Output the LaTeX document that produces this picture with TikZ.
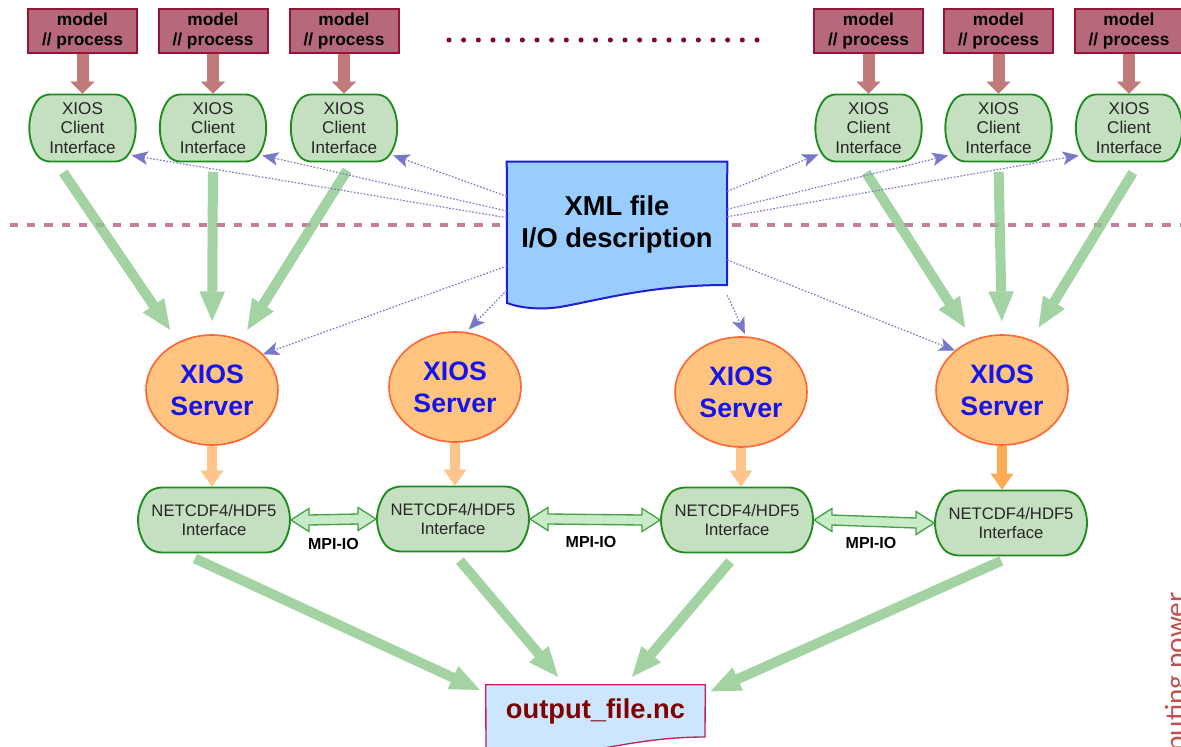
\documentclass[tikz,border=0pt]{standalone}
\usepackage{fontspec}
\setmainfont{Liberation Sans}
\newfontfamily\carl{Carlito}
\usetikzlibrary{shapes.misc,shapes.geometric,arrows.meta,calc}
\definecolor{modelfill}{RGB}{183,104,122}
\definecolor{modeldraw}{RGB}{150,20,55}
\definecolor{redarrow}{RGB}{192,122,122}
\definecolor{cfill}{RGB}{197,224,192}
\definecolor{cdraw}{RGB}{30,140,30}
\definecolor{garrow}{RGB}{140,200,140}
\definecolor{bdot}{RGB}{120,120,200}
\definecolor{sfill}{RGB}{255,196,128}
\definecolor{sdraw}{RGB}{255,100,50}
\definecolor{stext}{RGB}{20,20,235}
\definecolor{oarrow}{RGB}{255,196,140}
\definecolor{oarrowb}{RGB}{255,170,85}
\definecolor{mpifill}{RGB}{200,235,200}
\definecolor{mpidraw}{RGB}{70,160,70}
\definecolor{xmlfill}{RGB}{153,204,255}
\definecolor{xmldraw}{RGB}{30,30,210}
\definecolor{outfill}{RGB}{204,230,255}
\definecolor{outdraw}{RGB}{200,30,90}
\definecolor{outtext}{RGB}{128,0,0}
\definecolor{dashc}{RGB}{196,128,155}
\definecolor{dotc}{RGB}{130,10,40}
\definecolor{powred}{RGB}{192,80,77}
\tikzset{
  modelbox/.style={draw=modeldraw, line width=1.5pt, fill=modelfill, minimum width=81.75pt, minimum height=33pt, inner sep=0pt, align=center, font=\bfseries\fontsize{13}{15.5}\selectfont},
  clientbox/.style={rounded rectangle, rounded rectangle arc length=80, rounded corners=5pt, draw=cdraw, line width=1.4pt, fill=cfill, minimum width=62pt, minimum height=50.25pt, inner sep=0pt, align=center, text=black!85, font=\fontsize{12.8}{14.6}\selectfont},
  serverbox/.style={ellipse, draw=sdraw, line width=1.2pt, fill=sfill, minimum width=99pt, minimum height=82.5pt, inner sep=0pt, align=center, text=stext, font=\bfseries\fontsize{20}{24}\selectfont},
  netbox/.style={rounded rectangle, rounded rectangle arc length=110, rounded corners=5pt, draw=cdraw, line width=1.4pt, fill=cfill, minimum width=114pt, minimum height=48.75pt, inner sep=0pt, align=center, text=black!85, font=\fontsize{12.5}{14.5}\selectfont},
  redarr/.style={draw=redarrow, line width=9pt, -{Triangle[length=9pt,width=18pt,line width=0.01pt]}},
  garr/.style={draw=garrow, opacity=0.8, line width=7.5pt, -{Triangle[length=22pt,width=19pt,line width=0.01pt]}},
  oarr/.style={draw=oarrow, line width=7.5pt, -{Triangle[length=12pt,width=17pt,line width=0.01pt]}},
  dotarr/.style={draw=bdot, line width=0.9pt, dash pattern=on 1.2pt off 1.3pt, -{Stealth[length=12pt,width=10pt,inset=3pt,line width=0.01pt]}},
  mpiarr/.style={draw=mpidraw, line width=1pt, fill=mpifill, line join=miter},
  mpilabel/.style={font=\bfseries\fontsize{12}{14}\selectfont, inner sep=1pt},
}
\begin{document}
\begin{tikzpicture}[x=0.75pt,y=-0.75pt]
\useasboundingbox (0,0) rectangle (1181,746);
\clip (0,0) rectangle (1181,746);

% dashed separator and ellipsis dots
\draw[dashc, line width=3pt, dash pattern=on 6.2pt off 6.7pt] (10,225) -- (1181,225);
\draw[dotc, line width=3.8pt, line cap=round, dash pattern=on 0pt off 11pt] (449,40) -- (765,40);

% model boxes
\node[modelbox] (m1) at (82.5,31) {model\\// process};
\node[modelbox] (m2) at (213,31) {model\\// process};
\node[modelbox] (m3) at (344,31) {model\\// process};
\node[modelbox] (m4) at (868.5,31) {model\\// process};
\node[modelbox] (m5) at (998.5,31) {model\\// process};
\node[modelbox] (m6) at (1129,31) {model\\// process};

% clients
\node[clientbox] (c1) at (82.5,128) {XIOS\\Client\\Interface};
\node[clientbox] (c2) at (213,128) {XIOS\\Client\\Interface};
\node[clientbox] (c3) at (344,128) {XIOS\\Client\\Interface};
\node[clientbox] (c4) at (868.5,128) {XIOS\\Client\\Interface};
\node[clientbox] (c5) at (998.5,128) {XIOS\\Client\\Interface};
\node[clientbox] (c6) at (1129,128) {XIOS\\Client\\Interface};

\foreach \i in {1,...,6} {\draw[redarr] (m\i.south) -- (c\i.north);}

% servers
\node[serverbox] (s1) at (212,390) {XIOS\\Server};
\node[serverbox] (s2) at (455,387) {XIOS\\Server};
\node[serverbox] (s3) at (741,392) {XIOS\\Server};
\node[serverbox] (s4) at (1002,390) {XIOS\\Server};

% netcdf
\node[netbox] (n1) at (214,520) {NETCDF4/HDF5\\Interface};
\node[netbox] (n2) at (453,519) {NETCDF4/HDF5\\Interface};
\node[netbox] (n3) at (737,520) {NETCDF4/HDF5\\Interface};
\node[netbox] (n4) at (1011,523) {NETCDF4/HDF5\\Interface};

% XML document
\node[minimum width=165pt, minimum height=111pt, inner sep=0pt] (xml) at (617,236) {};
\draw[draw=xmldraw, line width=1.5pt, fill=xmlfill] (xml.north west) -- (xml.north east) -- (727,285) .. controls (650,285) and (600,300) .. (560,307) .. controls (540,310) and (520,308) .. (507,303) -- cycle;
\node[font=\bfseries\fontsize{20.5}{24}\selectfont, align=center] (xmltxt) at (617,224) {XML file\\I/O description};

% output file
\node[minimum width=164.25pt, minimum height=48.75pt, inner sep=0pt] (out) at (595.5,717.5) {};
\draw[draw=outdraw, line width=1pt, fill=outfill] (out.north west) -- (out.north east) -- (705,737) .. controls (640,737) and (600,752) .. (550,755) .. controls (520,757) .. (486,752) -- cycle;
\node[font=\bfseries\fontsize{20.5}{24}\selectfont, text=outtext] (outtxt) at (595.5,711) {output\_file.nc};

% client -> server (green)
\draw[garr, shorten <=9pt, shorten >=11pt] ($(c1.south)+(-26,0)$) -- (s1.125);
\draw[garr, shorten <=7pt, shorten >=10pt] (c2.south) -- (s1.north);
\draw[garr, shorten <=7pt, shorten >=9pt] ($(c3.south)+(8,0)$) -- (s1.60);
\draw[garr, shorten <=9pt, shorten >=11pt] ($(c4.south)+(-9,0)$) -- (s4.120);
\draw[garr, shorten <=7pt, shorten >=10pt] (c5.south) -- (s4.north);
\draw[garr, shorten <=9pt, shorten >=11pt] ($(c6.south)+(10,0)$) -- (s4.60);

% netcdf -> output (green)
\draw[garr, shorten <=9pt, shorten >=5pt] ($(n1.south)+(-30,0)$) -- ($(out.north west)+(0,8)$);
\draw[garr, shorten <=8pt, shorten >=8pt] (n2.south) -- ($(out.north west)+(79,0)$);
\draw[garr, shorten <=8pt, shorten >=8pt] (n3.south) -- ($(out.north east)+(-80,0)$);
\draw[garr, shorten <=8pt, shorten >=3pt] (n4.south) -- ($(out.north east)+(2,8)$);

% server -> netcdf (orange)
\draw[oarr] (s1.south) -- (s1.south |- n1.north);
\draw[oarr] (s2.south) -- (s2.south |- n2.north);
\draw[oarr] (s3.south) -- (s3.south |- n3.north);
\draw[oarr, draw=oarrowb] (s4.south) -- (s4.south |- n4.north);

% dotted XML connectors
\draw[dotarr] (xml) -- ($(c1.south east)+(9,-7)$);
\draw[dotarr] (xml) -- ($(c2.south east)+(9,-7)$);
\draw[dotarr] (xml) -- ($(c3.south east)+(9,-7)$);
\draw[dotarr] (xml) -- ($(c4.south west)+(-10,-8)$);
\draw[dotarr] (xml) -- ($(c5.south west)+(-10,-7)$);
\draw[dotarr] (xml) -- ($(c6.south west)+(-10,-7)$);
\draw[dotarr] ($(xml.west)+(0,30)$) -- (s1.35);
\draw[dotarr, shorten >=2pt] ($(xml.south west)+(0,-20)$) -- ($(s2.north)+(12,0)$);
\draw[dotarr, shorten >=2pt] ($(xml.south east)+(0,-15)$) -- ($(s3.north)+(5,0)$);
\draw[dotarr] ($(xml.east)+(0,24)$) -- (s4.140);

% MPI-IO double arrows
\draw[mpiarr] (n1.east) -- ++(18,-11.5) -- ++(0,6.5) -- ($(n2.west)+(-18,-5)$) -- ++(0,-6.5) -- (n2.west) -- ++(-18,11.5) -- ++(0,-6.5) -- ($(n1.east)+(18,5)$) -- ++(0,6.5) -- cycle;
\draw[mpiarr] (n2.east) -- ++(18,-11.5) -- ++(0,6.5) -- ($(n3.west)+(-18,-5)$) -- ++(0,-6.5) -- (n3.west) -- ++(-18,11.5) -- ++(0,-6.5) -- ($(n2.east)+(18,5)$) -- ++(0,6.5) -- cycle;
\draw[mpiarr] (n3.east) -- ++(18,-11.5) -- ++(0,6.5) -- ($(n4.west)+(-18,-5)$) -- ++(0,-6.5) -- (n4.west) -- ++(-18,11.5) -- ++(0,-6.5) -- ($(n3.east)+(18,5)$) -- ++(0,6.5) -- cycle;
\node[mpilabel] (mpi1) at ($(n1.east)!0.5!(n2.west)+(0,24)$) {MPI-IO};
\node[mpilabel] (mpi2) at ($(n2.east)!0.5!(n3.west)+(-4,22)$) {MPI-IO};
\node[mpilabel] (mpi3) at ($(n3.east)!0.5!(n4.west)+(-3,21)$) {MPI-IO};

% side text, cut off at the picture's edge as in the reference
\node[rotate=90, anchor=base east, inner sep=0pt, text=powred, font=\carl\fontsize{22}{26}\selectfont] (cp) at (1185,592) {computing power};
\end{tikzpicture}
\end{document}
